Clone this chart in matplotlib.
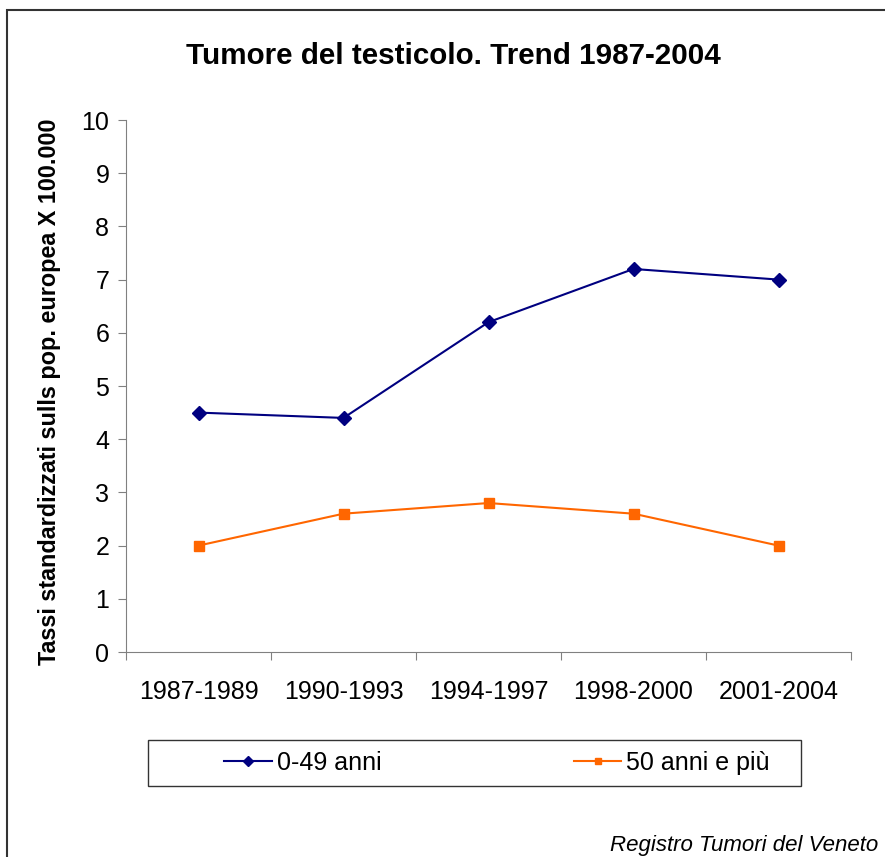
import numpy as np
import matplotlib.pyplot as plt
from matplotlib.patches import Rectangle

periods = ['1987-1989', '1990-1993', '1994-1997', '1998-2000', '2001-2004']
young = [4.5, 4.4, 6.2, 7.2, 7.0]
old = [2.0, 2.6, 2.8, 2.6, 2.0]

plt.rcParams['font.family'] = ['Liberation Sans', 'DejaVu Sans']

W, H = 885, 857
fig = plt.figure(figsize=(W / 100, H / 100), dpi=100)

# outer chart border (right/bottom edges cut off)
fig.patches.append(Rectangle((7 / W, -0.01), 1.0, 1 - 10 / H + 0.01,
                             transform=fig.transFigure, fill=False,
                             edgecolor='#333333', linewidth=1.5))

ax = fig.add_axes([126 / W, 1 - 652 / H, (851 - 126) / W, (652 - 120) / H])
x = np.arange(len(periods))
ax.plot(x, young, color='#000080', marker='D', markersize=7, linewidth=1.5,
        label='0-49 anni')
ax.plot(x, old, color='#FF6600', marker='s', markersize=7, linewidth=1.5,
        label='50 anni e più')

ax.set_xlim(-0.5, len(periods) - 0.5)
ax.set_ylim(0, 10)
ax.set_yticks(range(0, 11))
ax.set_xticks(np.arange(len(periods) + 1) - 0.5)
ax.set_xticklabels([])
ax.set_xticks(x, minor=True)
ax.set_xticklabels(periods, minor=True, fontsize=18)
ax.tick_params(axis='x', which='minor', length=0, pad=20)
ax.tick_params(axis='x', which='major', length=6, color='#808080', direction='out')
ax.tick_params(axis='y', length=6, color='#808080', labelsize=18, pad=6)
for s in ['top', 'right']:
    ax.spines[s].set_visible(False)
for s in ['left', 'bottom']:
    ax.spines[s].set_color('#808080')

ax.set_ylabel('Tassi standardizzati sulls pop. europea X 100.000',
              fontsize=16.8, fontweight='bold')
ax.yaxis.set_label_coords(-0.09, 0.489)

fig.text(453 / W, 1 - 56 / H, 'Tumore del testicolo. Trend 1987-2004',
         ha='center', va='center', fontsize=21.3, fontweight='bold')

# legend box
fig.patches.append(Rectangle((148 / W, 1 - 786 / H), (801 - 148) / W, 46 / H,
                             transform=fig.transFigure, fill=False,
                             edgecolor='#333333', linewidth=1.0))
leg = fig.legend(loc='center', bbox_to_anchor=(497 / W, 1 - 763 / H),
                 ncol=2, fontsize=18, frameon=False, markerscale=0.7,
                 handlelength=1.9, handletextpad=0.2, borderaxespad=0, borderpad=0,
                 columnspacing=7.7)

fig.text(878 / W, 1 - 845 / H, 'Registro Tumori del Veneto', ha='right', va='center',
         fontsize=16, style='italic')

fig.savefig('out.png', dpi=100)
